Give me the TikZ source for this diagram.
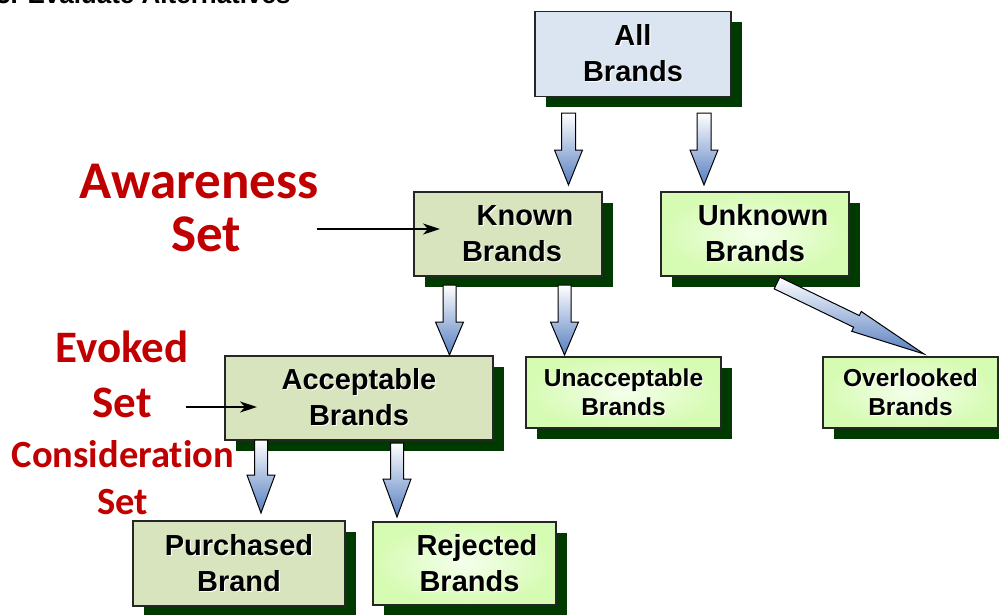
\documentclass[tikz,border=0pt]{standalone}
\usepackage{fontspec}
\setmainfont{Liberation Sans}
\newfontfamily\setfont[Ligatures=NoCommon]{Carlito}
\usetikzlibrary{calc,shadows,arrows.meta}

\definecolor{allblue}{RGB}{219,229,241}
\definecolor{olive}{RGB}{215,228,189}
\definecolor{limeout}{RGB}{214,251,178}
\definecolor{limein}{RGB}{244,255,236}
\definecolor{shadowgreen}{RGB}{0,58,0}
\definecolor{arrowblue}{RGB}{86,126,192}
\definecolor{setred}{RGB}{192,0,0}

% black lettering with a thin white relief
\newcommand\emb[1]{\leavevmode\rlap{\kern1.1pt\raisebox{-1.1pt}{\color{white}#1}}#1}

% hollow block arrow: tail, tip, head length, head half-width, shaft half-width
\newcommand\blockarrow[5]{%
  \coordinate (#1-neck) at ($(#2)!#3!(#1)$);
  \shade[top color=white, bottom color=arrowblue, draw=black, line width=1pt, line join=miter]
    ($(#1)!#5!90:(#2)$) -- ($(#1-neck)!#5!90:(#2)$) -- ($(#1-neck)!#4!90:(#2)$) -- (#2)
    -- ($(#1-neck)!#4!-90:(#2)$) -- ($(#1-neck)!#5!-90:(#2)$) -- ($(#1)!#5!-90:(#2)$) -- cycle;}

\tikzset{
  brandbox/.style={draw=black!85, line width=1.3pt, inner sep=0pt,
    drop shadow={shadow xshift=10.5pt, shadow yshift=-10.5pt, fill=shadowgreen, opacity=1}},
  allbox/.style={brandbox, fill=allblue},
  knownbox/.style={brandbox, fill=olive},
  otherbox/.style={brandbox, inner color=limein, outer color=limeout},
  biglabel/.style={align=center, inner sep=0pt, font=\bfseries\fontsize{29}{36}\selectfont},
  smalllabel/.style={align=center, inner sep=0pt, font=\bfseries\fontsize{24.5}{29}\selectfont},
  setlabel/.style={anchor=base, text=setred, inner sep=0pt},
  pointer/.style={line width=1.8pt, -{Stealth[length=17pt,width=11pt,inset=5pt]}},
}

\begin{document}
\begin{tikzpicture}[x=1pt,y=-1pt]
\useasboundingbox (0,0) rectangle (999,614);
\clip (0,0) rectangle (999,614);

% heading, mostly above the page edge
\node[anchor=base west, inner sep=0pt, font=\bfseries\fontsize{26}{30}\selectfont] (title) at (-4,3.8) {3. Evaluate Alternatives};

% brand boxes
\node[allbox, minimum width=196pt, minimum height=85pt] (all) at (633,54) {};
\node[knownbox, minimum width=188pt, minimum height=84pt] (known) at (508,234) {};
\node[otherbox, minimum width=188pt, minimum height=84pt] (unknown) at (755,234) {};
\node[knownbox, minimum width=268pt, minimum height=84pt] (accept) at (359,398) {};
\node[otherbox, minimum width=195pt, minimum height=71pt] (unaccept) at (623.5,392.5) {};
\node[otherbox, minimum width=175pt, minimum height=71pt] (overlooked) at (910.5,392.5) {};
\node[knownbox, minimum width=212pt, minimum height=85pt] (purchased) at (239,563.5) {};
\node[otherbox, minimum width=183pt, minimum height=83pt] (rejected) at (464.5,563.5) {};

% box captions
\node[biglabel] (allt) at (all) {\emb{All}\\\emb{Brands}};
\node[biglabel, xshift=4pt] (knownt) at (known) {\hspace*{26pt}\emb{Known}\\\emb{Brands}};
\node[biglabel] (unknownt) at (unknown) {\hspace*{16pt}\emb{Unknown}\\\emb{Brands}};
\node[biglabel] (acceptt) at (accept) {\emb{Acceptable}\\\emb{Brands}};
\node[smalllabel] (unacceptt) at (unaccept) {\emb{Unacceptable}\\\emb{Brands}};
\node[smalllabel] (overlookedt) at (overlooked) {\emb{Overlooked}\\\emb{Brands}};
\node[biglabel] (purchasedt) at (purchased) {\emb{Purchased}\\\emb{Brand}};
\node[biglabel, xshift=5pt] (rejectedt) at (rejected) {\hspace*{15pt}\emb{Rejected}\\\emb{Brands}};

% block arrow end points
\coordinate (a1) at (568.5,113);  \coordinate (a1h) at (568.5,185);
\coordinate (a2) at (704,113);    \coordinate (a2h) at (704,185);
\coordinate (k1) at (449.5,285);  \coordinate (k1h) at (449.5,355);
\coordinate (k2) at (564.5,285);  \coordinate (k2h) at (564.5,355);
\coordinate (c1) at (261,440);    \coordinate (c1h) at (261,513);
\coordinate (c2) at (397,443);    \coordinate (c2h) at (397,517);
\coordinate (u1) at (777,283);    \coordinate (u1h) at (924,354);

\blockarrow{a1}{a1h}{35pt}{14pt}{7pt}
\blockarrow{a2}{a2h}{35pt}{14pt}{7pt}
\blockarrow{k1}{k1h}{33pt}{14pt}{6.5pt}
\blockarrow{k2}{k2h}{33pt}{14pt}{6.5pt}
\blockarrow{c1}{c1h}{38pt}{14pt}{6.5pt}
\blockarrow{c2}{c2h}{38pt}{14pt}{6.5pt}
\blockarrow{u1}{u1h}{75pt}{11pt}{6.5pt}

% set names
\node[setlabel, font=\setfont\bfseries\fontsize{53}{53}\selectfont] (aw1) at (199,198) {Awareness};
\node[setlabel, font=\setfont\bfseries\fontsize{53}{53}\selectfont] (aw2) at (206,251) {Set};
\node[setlabel, font=\setfont\bfseries\fontsize{45}{45}\selectfont] (ev1) at (122,362) {Evoked};
\node[setlabel, font=\setfont\bfseries\fontsize{45}{45}\selectfont] (ev2) at (122,417) {Set};
\node[setlabel, font=\setfont\bfseries\fontsize{38.5}{38.5}\selectfont] (co1) at (123,467) {Consideration};
\node[setlabel, font=\setfont\bfseries\fontsize{38.5}{38.5}\selectfont] (co2) at (122.5,514) {Set};

% pointers from set names into the boxes
\coordinate (awfrom) at (317,229); \coordinate (awto) at (440,229);
\coordinate (evfrom) at (186,407); \coordinate (evto) at (257,407);
\draw[pointer] (awfrom) -- (awto);
\draw[pointer] (evfrom) -- (evto);
\end{tikzpicture}
\end{document}
